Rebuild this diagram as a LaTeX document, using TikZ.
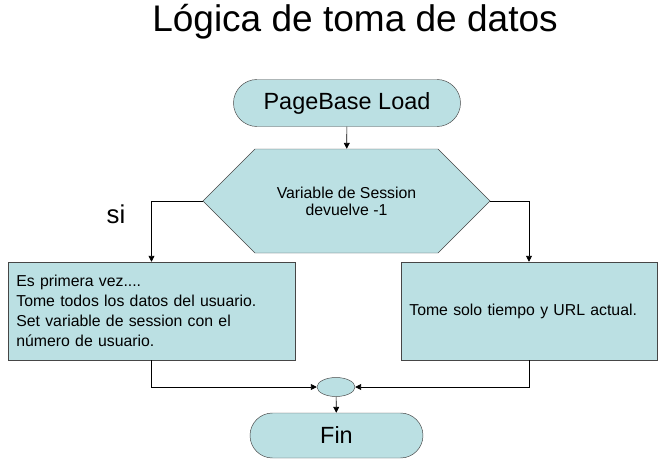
\documentclass[tikz,border=0pt]{standalone}
\usepackage{fontspec}
\setmainfont{Liberation Sans}
\usetikzlibrary{shapes.misc,shapes.symbols,shapes.geometric,arrows.meta}
\definecolor{flowfill}{RGB}{187,224,227}
\definecolor{flowline}{RGB}{70,70,70}
\tikzset{
  term/.style    = {rounded rectangle, draw=flowline, fill=flowfill,
                    font=\fontsize{20}{24}\selectfont, inner sep=0pt},
  decide/.style  = {signal, signal to=west and east, signal pointer angle=90,
                    draw=flowline, fill=flowfill, align=center,
                    font=\fontsize{13.5}{14.5}\selectfont,
                    minimum width=8.61cm, minimum height=3.12cm, inner sep=0pt},
  % Boxes: text starts at the left edge, lines wrap as in the original.
  actbox/.style  = {rectangle, draw=flowline, fill=flowfill, align=left,
                    font=\fontsize{13.5}{17}\selectfont,
                    minimum height=2.94cm, inner xsep=0.25cm},
  joint/.style   = {ellipse, draw=flowline, fill=flowfill,
                    minimum width=1.14cm, minimum height=0.57cm, inner sep=0pt},
  flow/.style    = {draw=black, line width=0.6pt, -{Triangle[length=5pt,width=5pt]}},
}

\begin{document}
\begin{tikzpicture}[x=0.03cm, y=-0.03cm]
    \useasboundingbox (0,0) rectangle (668,467);

    \node[font=\fontsize{31.6}{36}\selectfont] (title) at (355,22) {Lógica de toma de datos};

    \node[term, minimum width=6.81cm, minimum height=1.41cm] (load) at (347,103) {PageBase Load};
    \node[decide] (dec) at (346.5,201) {Variable de Session\\devuelve -1};

    \node[actbox, minimum width=8.61cm, text width=8.11cm] (first) at (151.5,311)
      {Es primera vez....\\Tome todos los datos del usuario.\\Set variable de session con el\\número de usuario.};
    \node[actbox, minimum width=7.68cm, text width=7.18cm] (other) at (529,311)
      {Tome solo tiempo y URL actual.};

    \node[joint] (join) at (336,387) {};
    \node[term, minimum width=5.19cm, minimum height=1.35cm] (fin) at (336.5,435.5) {Fin};

    \node[font=\fontsize{22}{26}\selectfont] (si) at (116,214) {si};

    \draw[flow] (load) -- (dec);
    \draw[flow] (dec.west) -| (first.north);
    \draw[flow] (dec.east) -| (other.north);
    \draw[flow] (first.south) |- (join.west);
    \draw[flow] (other.south) |- (join.east);
    \draw[flow] (join) -- (fin);
\end{tikzpicture}
\end{document}
